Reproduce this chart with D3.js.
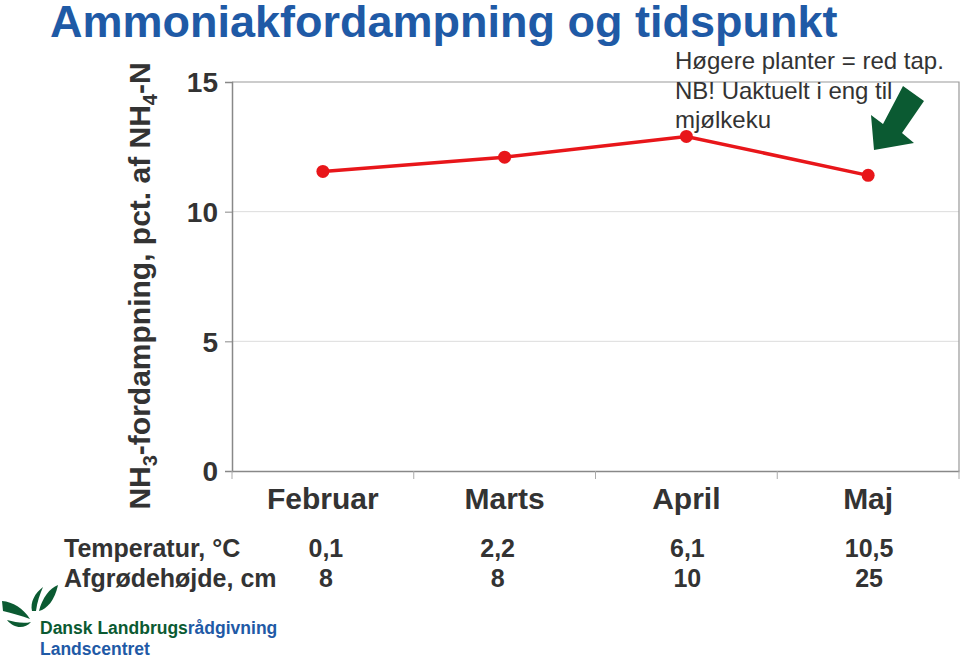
<!DOCTYPE html>
<html><head><meta charset="utf-8">
<script src="https://cdn.jsdelivr.net/npm/d3@7"></script>
<style>body{margin:0;background:#fff}svg{display:block}text{font-family:"Liberation Sans",Arial,sans-serif}</style>
</head><body>
<script>
const months = ["Februar","Marts","April","Maj"];
const nh3 = [11.55, 12.1, 12.9, 11.4];
const temperature = ["0,1","2,2","6,1","10,5"];
const cropHeight = ["8","8","10","25"];
const yTicks = [0,5,10,15];
const rowLabels = ["Temperatur, °C","Afgrødehøjde, cm"];
const noteLines = ["Høgere planter = red tap.","NB! Uaktuelt i eng til","mjølkeku"];

const W=960,H=660;
const svg=d3.select("body").append("svg").attr("width",W).attr("height",H);
const m={l:232,r:959,t:82,b:471};
const x=d3.scaleBand().domain(months).range([m.l,m.r]);
const y=d3.scaleLinear().domain([0,15]).range([m.b,m.t]);
const grey="#333";

// title
svg.append("text").attr("x",50).attr("y",37).attr("font-size",45).attr("font-weight","bold")
  .attr("fill","#1f5aa6").text("Ammoniakfordampning og tidspunkt");

// gridlines
svg.append("g").selectAll("line").data(yTicks.filter(d=>d>0&&d<15)).join("line")
  .attr("x1",m.l).attr("x2",m.r).attr("y1",d=>y(d)).attr("y2",d=>y(d))
  .attr("stroke","#dcdcdc").attr("stroke-width",1);
// frame top/right
svg.append("path").attr("d",`M${m.l},${m.t}H${m.r}V${m.b}`).attr("fill","none").attr("stroke","#999").attr("stroke-width",1.2);

// y axis
const ya=svg.append("g").attr("transform",`translate(${m.l},0)`)
  .call(d3.axisLeft(y).tickValues(yTicks).tickSize(7).tickPadding(7).tickFormat(d3.format("d")));
ya.select(".domain").attr("stroke","#888").attr("stroke-width",1.5);
ya.selectAll(".tick line").attr("stroke","#888");
ya.selectAll("text").attr("font-size",28).attr("font-weight","bold").attr("fill",grey).attr("font-family","Liberation Sans, Arial, sans-serif").attr("dy","0.35em");

// x axis
const xa=svg.append("g").attr("transform",`translate(0,${m.b})`)
  .call(d3.axisBottom(x).tickSize(0).tickPadding(17));
xa.select(".domain").attr("stroke","#888").attr("stroke-width",1.5);
xa.selectAll("text").attr("font-size",30).attr("font-weight","bold").attr("fill",grey).attr("font-family","Liberation Sans, Arial, sans-serif");
// category separators
svg.append("g").selectAll("line").data(months.concat(["end"])).join("line")
  .attr("x1",(d,i)=>m.l+i*x.step()).attr("x2",(d,i)=>m.l+i*x.step())
  .attr("y1",m.b).attr("y2",m.b+8).attr("stroke","#aaa");

// y label
const yl=svg.append("text").attr("transform","translate(150,286) rotate(-90)").attr("text-anchor","middle")
  .attr("font-size",30).attr("font-weight","bold").attr("fill",grey);
yl.append("tspan").text("NH");
yl.append("tspan").attr("font-size",20).attr("dy",7).text("3");
yl.append("tspan").attr("dy",-7).text("-fordampning, pct. af NH");
yl.append("tspan").attr("font-size",20).attr("dy",7).text("4");
yl.append("tspan").attr("dy",-7).text("-N");

// line
const cx=d=>x(d)+x.bandwidth()/2;
svg.append("path").datum(months.map((mo,i)=>[cx(mo),y(nh3[i])]))
  .attr("d",d3.line()).attr("fill","none").attr("stroke","#e8161a").attr("stroke-width",3.5);
svg.append("g").selectAll("circle").data(months).join("circle")
  .attr("cx",cx).attr("cy",(d,i)=>y(nh3[i])).attr("r",6.5).attr("fill","#e8161a");

// note
svg.append("g").selectAll("text").data(noteLines).join("text")
  .attr("x",675).attr("y",(d,i)=>69+i*29.5).attr("font-size",24).attr("fill",grey).text(d=>d);

// arrow
svg.append("path").attr("d","M903,86 L924,101 L902,133 L914,143 L874,150 L871,115 L883,124 Z").attr("fill","#0b5a32");

// table rows
const rows=[temperature,cropHeight];
rows.forEach((r,ri)=>{
  const yy=557+ri*30;
  svg.append("text").attr("x",64).attr("y",yy).attr("font-size",25).attr("font-weight","bold").attr("fill",grey).text(rowLabels[ri]);
  svg.append("g").selectAll("text").data(r).join("text")
    .attr("x",(d,i)=>cx(months[i])+(i===1?-7:(i===0?3:1))).attr("y",yy).attr("text-anchor","middle")
    .attr("font-size",25).attr("font-weight","bold").attr("fill",grey).text(d=>d);
});

// logo
const lg=svg.append("g").attr("fill","#0b5a32");
lg.append("path").attr("d","M2,601 C13,602 23,608 30,619 C22,616 12,613 3,611 Z");
lg.append("path").attr("d","M7,620 C15,622 23,624 31,622 C25,629 14,629 7,620 Z");
lg.append("path").attr("d","M43,587 C35,593 30,602 32,611 L36,611 C37,602 40,594 43,587 Z");
lg.append("path").attr("d","M58,585 C50,588 42,598 39,611 C47,609 55,600 58,585 Z");
const lt=svg.append("text").attr("x",40).attr("y",634).attr("font-size",17.5).attr("font-weight","bold");
lt.append("tspan").attr("fill","#0b5a32").text("Dansk Landbrugs");
lt.append("tspan").attr("fill","#1f5aa6").text("rådgivning");
svg.append("text").attr("x",40).attr("y",655).attr("font-size",17.5).attr("font-weight","bold").attr("fill","#1f5aa6").text("Landscentret");
</script>
</body></html>
